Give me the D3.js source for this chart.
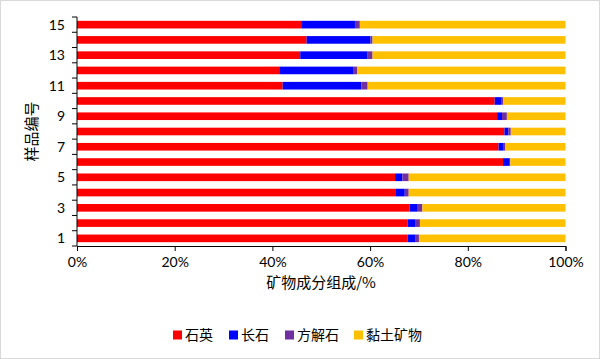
<!DOCTYPE html>
<html>
<head>
<meta charset="utf-8">
<script src="https://cdn.jsdelivr.net/npm/d3@7"></script>
<style>
  body { margin: 0; background: #fff; }
  svg { display: block; }
</style>
</head>
<body>
<svg id="chart"></svg>
<script>
// sample numbers, bottom to top
var samples = ['1', '2', '3', '4', '5', '6', '7', '8', '9', '10', '11', '12', '13', '14', '15'];
var minerals = ['石英', '长石', '方解石', '黏土矿物'];
var colors = ['#ff0000', '#0000ff', '#7030a0', '#ffc000'];

// composition in %, one array per mineral, in sample order
var quartz   = [67.7, 67.7, 68.1, 65.3, 65.1, 87.2, 86.3, 87.5, 86.0, 85.5, 42.1, 41.4, 45.7, 47.0, 45.9];
var feldspar = [1.5, 1.5, 1.5, 1.8, 1.5, 1.4, 0.9, 0.8, 1.0, 1.3, 16.1, 15.1, 13.8, 13.1, 11.0];
var calcite  = [0.8, 1.0, 1.1, 0.8, 1.3, 0.1, 0.5, 0.5, 1.0, 0.4, 1.3, 0.9, 1.0, 0.4, 1.0];
var clay     = [30.0, 29.8, 29.3, 32.1, 32.1, 11.3, 12.3, 11.2, 12.0, 12.8, 40.5, 42.6, 39.5, 39.5, 42.1];

var xTicks = [0, 0.2, 0.4, 0.6, 0.8, 1];
var yLabels = ['1', '3', '5', '7', '9', '11', '13', '15'];

var width = 600, height = 359;
var margin = { top: 17, right: 35, bottom: 113, left: 77 };
var font = 'Lato, "Open Sans", sans-serif';
var cjk = '"Noto Sans CJK SC", sans-serif';

var svg = d3.select('#chart')
    .attr('width', width)
    .attr('height', height);

svg.append('rect')
    .attr('x', 0.5).attr('y', 0.5)
    .attr('width', width - 1).attr('height', height - 1)
    .attr('fill', '#fff')
    .attr('stroke', '#d9d9d9');

var table = samples.map(function(s, i) {
    var total = quartz[i] + feldspar[i] + calcite[i] + clay[i];
    return {
        sample: s,
        '石英': quartz[i] / total,
        '长石': feldspar[i] / total,
        '方解石': calcite[i] / total,
        '黏土矿物': clay[i] / total
    };
});

var stack = d3.stack().keys(minerals);
var series = stack(table);

var xScale = d3.scaleLinear()
    .domain([0, 1])
    .range([margin.left, width - margin.right + 0.5]);

var yScale = d3.scaleBand()
    .domain(samples.slice().reverse())
    .range([margin.top, height - margin.bottom])
    .paddingInner(0.5)
    .paddingOuter(0.25);

var color = d3.scaleOrdinal().domain(minerals).range(colors);

// bars
svg.append('g')
    .selectAll('g')
    .data(series)
    .join('g')
    .attr('fill', function(d) { return color(d.key); })
    .selectAll('rect')
    .data(function(d) { return d; })
    .join('rect')
    .attr('x', function(d) { return xScale(d[0]); })
    .attr('y', function(d) { return yScale(d.data.sample); })
    .attr('width', function(d) { return xScale(d[1]) - xScale(d[0]); })
    .attr('height', yScale.bandwidth());

// x axis
var xAxis = d3.axisBottom(xScale)
    .tickValues(xTicks)
    .tickFormat(d3.format('.0%'))
    .tickSize(5)
    .tickPadding(6);

var gx = svg.append('g')
    .attr('transform', 'translate(0,' + (height - margin.bottom) + ')')
    .call(xAxis);
gx.select('.domain').attr('stroke', '#000');
gx.selectAll('line').attr('stroke', '#000');
gx.selectAll('text')
    .attr('font-family', font)
    .attr('font-size', 14)
    .attr('fill', '#000');

// y axis: ticks on band edges, labels on odd samples
var step = yScale.step();
var yEdge = d3.scaleLinear()
    .domain([0, samples.length])
    .range([height - margin.bottom, margin.top]);

var gy = svg.append('g')
    .attr('transform', 'translate(' + margin.left + ',0)');
gy.append('line')
    .attr('x1', 0).attr('x2', 0)
    .attr('y1', yEdge(samples.length)).attr('y2', yEdge(0))
    .attr('stroke', '#000');
gy.selectAll('.tick')
    .data(d3.range(samples.length + 1))
    .join('line')
    .attr('x1', -5).attr('x2', 0)
    .attr('y1', function(d) { return yEdge(d); })
    .attr('y2', function(d) { return yEdge(d); })
    .attr('stroke', '#000');
gy.selectAll('text')
    .data(yLabels)
    .join('text')
    .attr('x', -12)
    .attr('y', function(d) { return yScale(d) + yScale.bandwidth() / 2; })
    .attr('dy', '0.35em')
    .attr('text-anchor', 'end')
    .attr('font-family', font)
    .attr('font-size', 14)
    .text(function(d) { return d; });

// axis titles
svg.append('text')
    .attr('x', (margin.left + width - margin.right) / 2)
    .attr('y', 288)
    .attr('text-anchor', 'middle')
    .attr('font-family', cjk)
    .attr('font-size', 15)
    .text('矿物成分组成/%');

svg.append('text')
    .attr('transform', 'translate(32,' + ((margin.top + height - margin.bottom) / 2) + ') rotate(-90)')
    .attr('text-anchor', 'middle')
    .attr('dy', '0.35em')
    .attr('font-family', cjk)
    .attr('font-size', 15)
    .text('样品编号');

// legend
var legendX = [173, 229, 285, 354];
var legend = svg.append('g')
    .selectAll('g')
    .data(minerals)
    .join('g')
    .attr('transform', function(d, i) { return 'translate(' + legendX[i] + ',335)'; });
legend.append('rect')
    .attr('x', 0).attr('y', -4.5)
    .attr('width', 9).attr('height', 9)
    .attr('fill', function(d) { return color(d); });
legend.append('text')
    .attr('x', 12)
    .attr('dy', '0.35em')
    .attr('font-family', cjk)
    .attr('font-size', 14)
    .text(function(d) { return d; });
</script>
</body>
</html>
